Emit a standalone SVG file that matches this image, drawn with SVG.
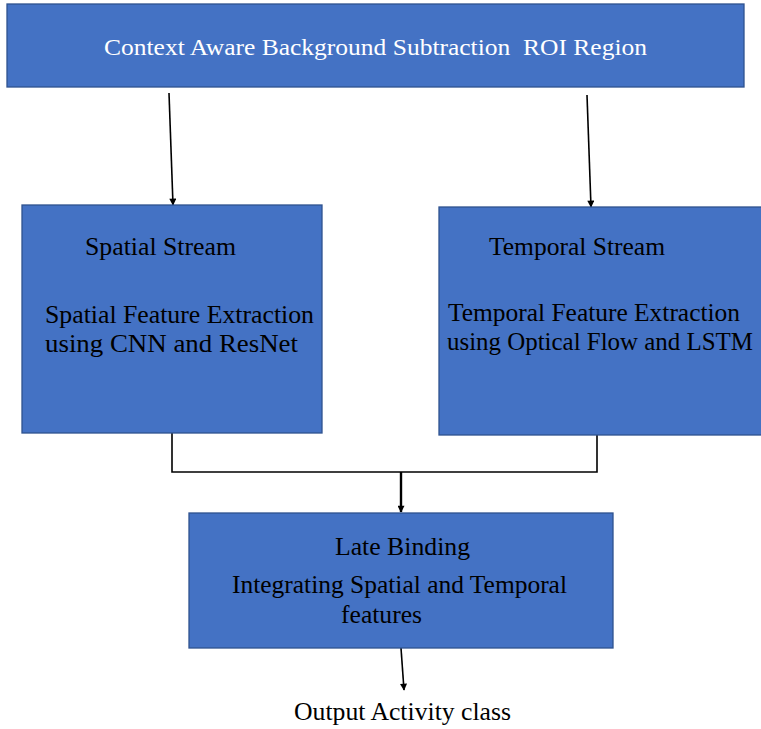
<svg xmlns="http://www.w3.org/2000/svg" width="761" height="729" viewBox="0 0 761 729">
<style>
.box{fill:#4472C4;stroke:#2F528F;stroke-width:1.3}
.t{font-family:"Liberation Serif","Times New Roman",serif;font-size:26px;fill:#000}
.w{fill:#fff;font-size:24px}
.c{fill:none;stroke:#000;stroke-width:1.6}
</style>
<defs>
<marker id="ah" viewBox="0 0 10 10" refX="9" refY="5" markerWidth="8" markerHeight="7" markerUnits="userSpaceOnUse" orient="auto">
<path d="M0,0 L10,5 L0,10 z" fill="#000"/>
</marker>
</defs>
<rect width="761" height="729" fill="#fff"/>
<g id="connectors">
<line class="c" x1="169" y1="93" x2="173" y2="205" marker-end="url(#ah)"/>
<line class="c" x1="587" y1="95" x2="591" y2="207" marker-end="url(#ah)"/>
<polyline class="c" points="172,433 172,472 597,472 597,435"/>
<line class="c" style="stroke-width:2.4" x1="401" y1="472" x2="401" y2="512" marker-end="url(#ah)"/>
<line class="c" x1="401" y1="648" x2="404" y2="690" marker-end="url(#ah)"/>
</g>
<g id="top">
<rect class="box" x="7" y="4" width="737" height="83"/>
<text class="t w" x="104" y="55" textLength="543" lengthAdjust="spacingAndGlyphs">Context Aware Background Subtraction &#160;ROI Region</text>
</g>
<g id="spatial">
<rect class="box" x="22" y="205" width="300" height="228"/>
<text class="t" x="85" y="255" textLength="151" lengthAdjust="spacingAndGlyphs">Spatial Stream</text>
<text class="t" x="45" y="323" textLength="269" lengthAdjust="spacingAndGlyphs">Spatial Feature Extraction</text>
<text class="t" x="45" y="352" textLength="253" lengthAdjust="spacingAndGlyphs">using CNN and ResNet</text>
</g>
<g id="temporal">
<rect class="box" x="439" y="207" width="330" height="228"/>
<text class="t" x="489" y="255" textLength="176" lengthAdjust="spacingAndGlyphs">Temporal Stream</text>
<text class="t" x="448" y="321" textLength="292" lengthAdjust="spacingAndGlyphs">Temporal Feature Extraction</text>
<text class="t" x="447" y="350" textLength="306" lengthAdjust="spacingAndGlyphs">using Optical Flow and LSTM</text>
</g>
<g id="late">
<rect class="box" x="189" y="513" width="424" height="135"/>
<text class="t" x="335" y="555" textLength="135" lengthAdjust="spacingAndGlyphs">Late Binding</text>
<text class="t" x="232" y="593" textLength="335" lengthAdjust="spacingAndGlyphs">Integrating Spatial and Temporal</text>
<text class="t" x="341" y="623" textLength="81" lengthAdjust="spacingAndGlyphs">features</text>
</g>
<g id="output">
<text class="t" x="294" y="720" textLength="217" lengthAdjust="spacingAndGlyphs">Output Activity class</text>
</g>
</svg>
